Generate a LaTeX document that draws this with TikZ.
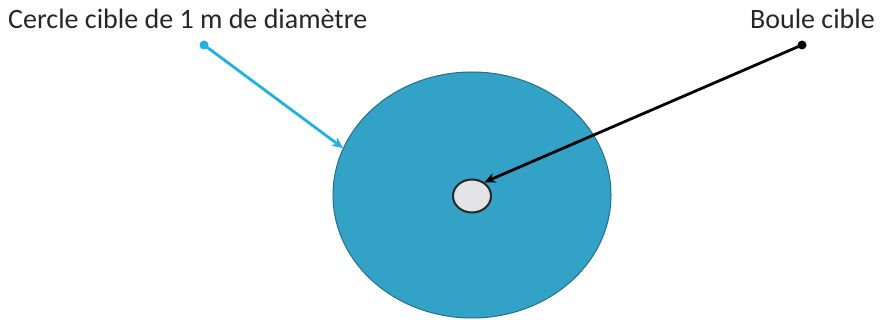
\documentclass[tikz,border=0pt]{standalone}
\usepackage{fontspec}
\setmainfont{Carlito}
\usetikzlibrary{shapes.geometric, arrows.meta}
\definecolor{targetblue}{RGB}{50,163,198}
\definecolor{targetedge}{RGB}{35,110,135}
\definecolor{pointblue}{RGB}{30,178,225}
\definecolor{ballgray}{RGB}{228,228,230}

\begin{document}
\begin{tikzpicture}[
  x=1pt, y=-1pt,
  label/.style={font=\fontsize{28}{32}\selectfont, inner sep=0pt, text=black!85},
  dot/.style={circle, inner sep=0pt, minimum size=9pt},
  pointer/.style={-{Stealth[length=11pt, width=10pt]}, line width=2.8pt},
]
\useasboundingbox (0,0) rectangle (880,320);

% Target circle and ball
\node[ellipse, fill=targetblue, draw=targetedge, line width=1pt, minimum width=278pt, minimum height=246pt, inner sep=0pt] (target) at (472,195) {};
\node[ellipse, fill=ballgray, draw=black!85, line width=2pt, minimum width=38pt, minimum height=33pt, inner sep=0pt] (ball) at (472,196) {};

% Labels
\node[label, anchor=base west] (circlelabel) at (8,29) {Cercle cible de 1 m de diamètre};
\node[label, anchor=base east] (balllabel) at (875,29) {Boule cible};

% Pointers
\node[dot, fill=pointblue] (cdot) at (204,45) {};
\node[dot, fill=black] (bdot) at (802,45) {};
\draw[pointer, pointblue] (cdot.center) -- (target.160);
\draw[pointer, black] (bdot.center) -- (ball.48);
\end{tikzpicture}
\end{document}
